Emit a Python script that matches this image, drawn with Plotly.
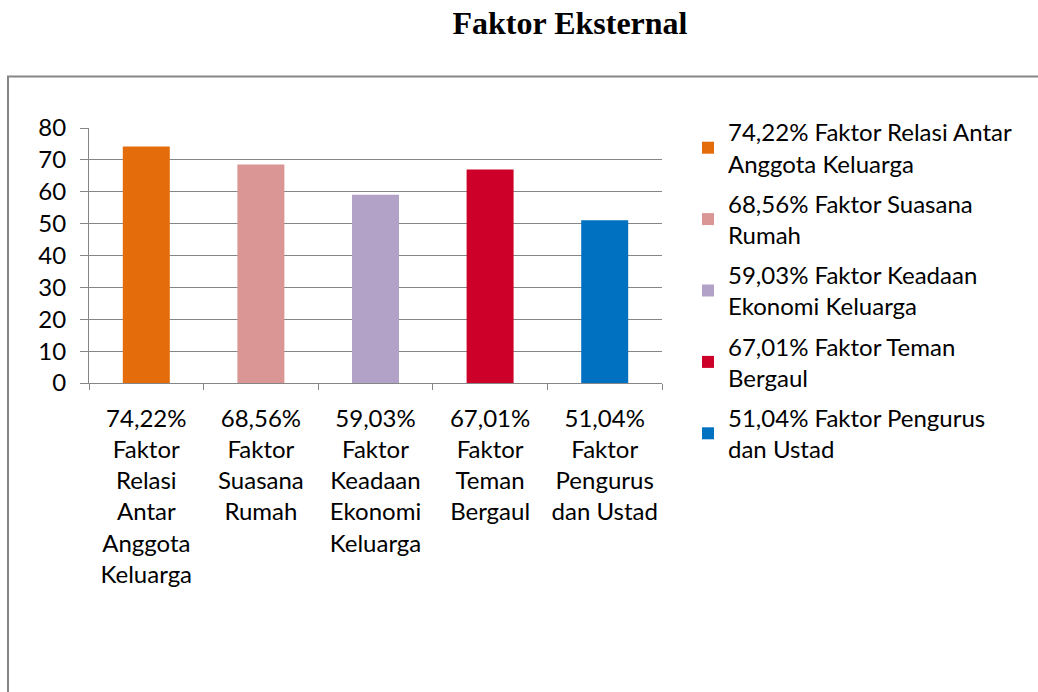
import plotly.graph_objects as go

categories = [
    "74,22%<br>Faktor<br>Relasi<br>Antar<br>Anggota<br>Keluarga",
    "68,56%<br>Faktor<br>Suasana<br>Rumah",
    "59,03%<br>Faktor<br>Keadaan<br>Ekonomi<br>Keluarga",
    "67,01%<br>Faktor<br>Teman<br>Bergaul",
    "51,04%<br>Faktor<br>Pengurus<br>dan Ustad",
]
legend_names = [
    "74,22% Faktor Relasi Antar<br>Anggota Keluarga",
    "68,56% Faktor Suasana<br>Rumah",
    "59,03% Faktor Keadaan<br>Ekonomi Keluarga",
    "67,01% Faktor Teman<br>Bergaul",
    "51,04% Faktor Pengurus<br>dan Ustad",
]
values = [74.22, 68.56, 59.03, 67.01, 51.04]
colors = ["#E46C0A", "#D99694", "#B3A2C7", "#CC0029", "#0070C0"]
y_ticks = [0, 10, 20, 30, 40, 50, 60, 70, 80]

W, H = 1038, 692
ML, MR, MT, MB = 89, 376, 128, 309
pw, ph = W - ML - MR, H - MT - MB

FONT = "Lato, 'Open Sans', sans-serif"
GRAY = "#868686"
FS = 24

fig = go.Figure()
for i, (cat, name, v, c) in enumerate(zip(categories, legend_names, values, colors)):
    fig.add_trace(go.Bar(x=[cat], y=[v], name=name, legendgroup=f"g{i}",
                         marker=dict(color=c, line=dict(width=0)), width=0.41))

def px_to_paper_x(px):
    return (px - ML) / pw

def px_to_paper_y(py):
    return (H - MB - py) / ph

fig.update_layout(
    width=W, height=H,
    margin=dict(l=ML, r=MR, t=MT, b=MB, autoexpand=False),
    paper_bgcolor="white", plot_bgcolor="white",
    barmode="overlay",
    font=dict(family=FONT, size=FS, color="#000000"),
    title=dict(text="<b>Faktor Eksternal</b>", x=570 / W, xanchor="center", xref="container",
               y=1 - 23 / H, yanchor="middle", yref="container",
               font=dict(family="'Liberation Serif', 'Times New Roman', serif", size=32, color="#000000")),
    xaxis=dict(categoryorder="array", categoryarray=categories, showline=True, linecolor=GRAY, linewidth=1,
               ticks="outside", tickson="boundaries", ticklen=6, tickcolor=GRAY, showgrid=False,
               tickangle=0, automargin=False,
               ticklabelstandoff=14, tickfont=dict(family=FONT, size=FS, color="#000000")),
    yaxis=dict(range=[0, 80], tickvals=y_ticks, showline=True, linecolor=GRAY, linewidth=1,
               ticks="outside", ticklen=8, tickcolor=GRAY, showgrid=True, gridcolor=GRAY, gridwidth=1,
               zeroline=False, automargin=False,
               ticklabelstandoff=9, tickfont=dict(family=FONT, size=FS, color="#000000")),
    legend=dict(xref="container", yref="container", x=688 / W, y=1 - 110 / H, xanchor="left", yanchor="top",
                maxheight=560, font=dict(family=FONT, size=FS, color="#000000"),
                bgcolor="rgba(0,0,0,0)", tracegroupgap=6),
    shapes=[dict(type="rect", xref="paper", yref="paper",
                 x0=px_to_paper_x(8), x1=px_to_paper_x(1060),
                 y0=px_to_paper_y(720), y1=px_to_paper_y(76.5),
                 line=dict(color=GRAY, width=2), fillcolor="rgba(0,0,0,0)", layer="below")],
)

fig.write_html("out.html", config={"displayModeBar": False},
               post_script="document.body.style.margin='0';")
